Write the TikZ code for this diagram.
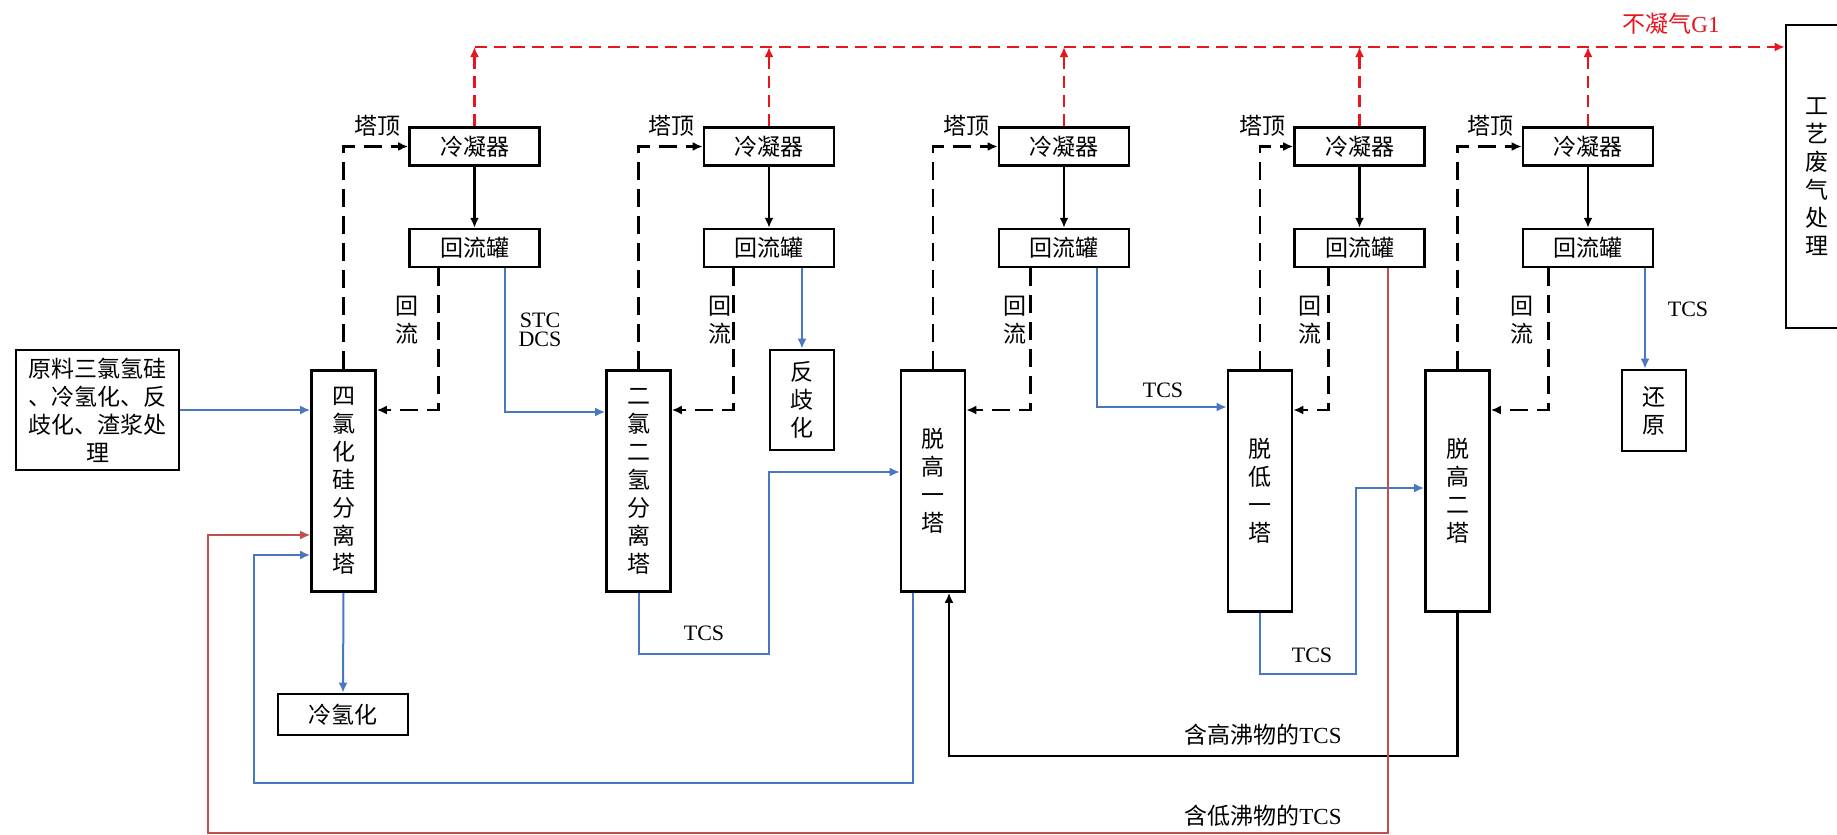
\documentclass[tikz,border=0pt]{standalone}
\usepackage{fontspec}
\setmainfont{Liberation Serif}
\newfontfamily\cjk{Noto Sans CJK SC}
\usepackage{tikz}
\usetikzlibrary{arrows.meta,positioning}

\definecolor{flowblue}{RGB}{74,120,192}
\definecolor{gasred}{RGB}{232,20,30}
\definecolor{lowred}{RGB}{192,80,77}

\begin{document}
\begin{tikzpicture}[
    x=1pt, y=-1pt,
    font=\cjk\fontsize{23}{28}\selectfont,
    unit/.style={draw, line width=2.6pt, inner sep=0pt, align=center},
    condbox/.style={unit, minimum width=130pt, minimum height=38pt},
    column/.style={unit, minimum width=64pt},
    tag/.style={inner sep=1pt, align=center},
    latin/.style={tag, font=\rmfamily\fontsize{22}{19}\selectfont},
    solidflow/.style={line width=2.2pt, -{Latex[length=10pt,width=9pt]}},
    vapour/.style={solidflow, line width=2.6pt, dash pattern=on 18pt off 9pt},
    blueflow/.style={solidflow, color=flowblue, line width=2pt},
    gasflow/.style={solidflow, color=gasred, line width=2.6pt, dash pattern=on 12pt off 7pt},
    lowflow/.style={solidflow, color=lowred, line width=1.8pt}
]
\useasboundingbox (0,0) rectangle (1837,835);
\fill[white] (0,0) rectangle (1837,835);

% columns
\node[column, minimum height=221pt] (c1) at (343.5,481) {四\\氯\\化\\硅\\分\\离\\塔};
\node[column, minimum height=221pt] (c2) at (638.5,481) {二\\氯\\二\\氢\\分\\离\\塔};
\node[column, minimum height=221pt] (c3) at (933,481) {脱\\高\\一\\塔};
\node[column, minimum height=241pt] (c4) at (1260,491) {脱\\低\\一\\塔};
\node[column, minimum height=241pt] (c5) at (1457.5,491) {脱\\高\\二\\塔};

% condensers and reflux drums
\node[condbox] (k1) at (474.5,146.5) {冷凝器};
\node[condbox] (k2) at (769,146.5) {冷凝器};
\node[condbox] (k3) at (1064,146.5) {冷凝器};
\node[condbox] (k4) at (1359.5,146.5) {冷凝器};
\node[condbox] (k5) at (1588,146.5) {冷凝器};
\node[condbox, below=61pt of k1] (r1) {回流罐};
\node[condbox, below=61pt of k2] (r2) {回流罐};
\node[condbox, below=61pt of k3] (r3) {回流罐};
\node[condbox, below=61pt of k4] (r4) {回流罐};
\node[condbox, below=61pt of k5] (r5) {回流罐};

% feed and products
\node[unit, minimum width=163pt, minimum height=120pt] (feed) at (97.5,410) {原料三氯氢硅\\、冷氢化、反\\歧化、渣浆处\\理};
\node[unit, minimum width=130pt, minimum height=41pt] (coldh) at (343,714.5) {冷氢化};
\node[unit, minimum width=64pt, minimum height=100pt] (redist) at (802,400) {反\\歧\\化};
\node[unit, minimum width=64pt, minimum height=81pt] (reduce) at (1654,410.5) {还\\原};
\node[unit, minimum width=62pt, minimum height=303pt] (waste) at (1817,176.5) {工\\艺\\废\\气\\处\\理};

% labels
\node[tag, anchor=east] (top1) at ([xshift=-7pt]k1.north west) {塔顶};
\node[tag, anchor=east] (top2) at ([xshift=-7pt]k2.north west) {塔顶};
\node[tag, anchor=east] (top3) at ([xshift=-7pt]k3.north west) {塔顶};
\node[tag, anchor=east] (top4) at ([xshift=-7pt]k4.north west) {塔顶};
\node[tag, anchor=east] (top5) at ([xshift=-7pt]k5.north west) {塔顶};
\node[tag] (back1) at (407,320) {回\\流};
\node[tag] (back2) at (720,320) {回\\流};
\node[tag] (back3) at (1015,320) {回\\流};
\node[tag] (back4) at (1310,320) {回\\流};
\node[tag] (back5) at (1522,320) {回\\流};
\node[latin] (stcdcs) at (540,330) {STC\\DCS};
\node[latin] (tcs1) at (704,633) {TCS};
\node[latin] (tcs2) at (1163,390) {TCS};
\node[latin] (tcs3) at (1312,655) {TCS};
\node[latin] (tcs4) at (1688,309) {TCS};
\node[tag] (highlab) at (1263,735) {含高沸物的{\rmfamily TCS}};
\node[tag] (lowlab) at (1263,816) {含低沸物的{\rmfamily TCS}};
\node[tag, text=gasred] (gaslab) at (1671,24) {不凝气{\rmfamily G1}};

% route corners
\coordinate (gasrow) at (0,47);
\coordinate (tcsA) at (769,654);
\coordinate (tcsB) at (1356,674);
\coordinate (hirow) at (0,756);
\coordinate (ret1) at (254,783);
\coordinate (ret2) at (208,833);

% overhead vapour and reflux
\draw[vapour] (c1.north) |- (k1.west);
\draw[vapour] (c2.north) |- (k2.west);
\draw[vapour] (c3.north) |- (k3.west);
\draw[vapour] (c4.north) |- (k4.west);
\draw[vapour] (c5.north) |- (k5.west);
\draw[solidflow] (k1.south) -- (r1.north);
\draw[solidflow] (k2.south) -- (r2.north);
\draw[solidflow] (k3.south) -- (r3.north);
\draw[solidflow] (k4.south) -- (r4.north);
\draw[solidflow] (k5.south) -- (r5.north);
\draw[vapour] ([xshift=30pt]r1.south west) |- ([yshift=71pt]c1.east);
\draw[vapour] ([xshift=31pt]r2.south west) |- ([yshift=71pt]c2.east);
\draw[vapour] ([xshift=33pt]r3.south west) |- ([yshift=71pt]c3.east);
\draw[vapour] ([xshift=35pt]r4.south west) |- ([yshift=81pt]c4.east);
\draw[vapour] ([xshift=27pt]r5.south west) |- ([yshift=81pt]c5.east);

% non-condensable gas
\draw[gasflow] (k1.north) -- (k1.north |- gasrow);
\draw[gasflow] (k2.north) -- (k2.north |- gasrow);
\draw[gasflow] (k3.north) -- (k3.north |- gasrow);
\draw[gasflow] (k4.north) -- (k4.north |- gasrow);
\draw[gasflow] (k5.north) -- (k5.north |- gasrow);
\draw[gasflow] (k1.north |- gasrow) -- (waste.west |- gasrow);

% product streams
\draw[blueflow] (feed.east) -- (feed.east -| c1.west);
\draw[blueflow] ([xshift=97pt]r1.south west) |- ([yshift=69pt]c2.west);
\draw[blueflow] (redist.north |- r2.south) -- (redist.north);
\draw[blueflow] ([xshift=99pt]r3.south west) |- ([yshift=84pt]c4.west);
\draw[blueflow] ([xshift=-9pt]reduce.north |- r5.south) -- ([xshift=-9pt]reduce.north);
\draw[blueflow] (c1.south) -- (coldh.north);
\draw[blueflow] (c2.south) |- (tcsA) |- ([yshift=9pt]c3.west);
\draw[blueflow] (c4.south) |- (tcsB) |- ([yshift=3pt]c5.west);
\draw[blueflow] ([xshift=13pt]c3.south west) |- (ret1) |- ([yshift=-74pt]c1.west);
\draw[solidflow] (c5.south) |- ([xshift=16pt]c3.south |- hirow) -- ([xshift=16pt]c3.south);
\draw[lowflow] ([xshift=95pt]r4.south west) |- (ret2) |- ([yshift=-54pt]c1.west);
\end{tikzpicture}
\end{document}
